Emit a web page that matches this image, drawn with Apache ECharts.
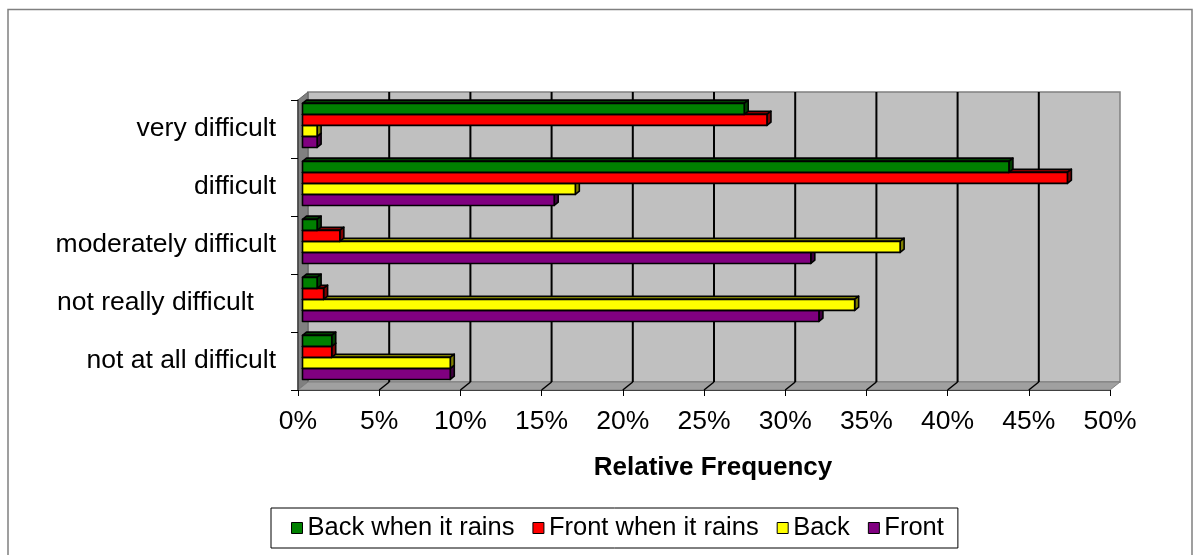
<!DOCTYPE html>
<html>
<head>
<meta charset="utf-8">
<script src="https://cdn.jsdelivr.net/npm/echarts@6/dist/echarts.min.js"></script>
<style>
html,body{margin:0;padding:0;background:#fff}
#c{width:1200px;height:555px}
</style>
</head>
<body>
<div id="c"></div>
<script>
// ---- data ----
const categories = ['very difficult', 'difficult', 'moderately difficult', 'not really difficult   ', 'not at all difficult'];
const seriesNames = ['Back when it rains', 'Front when it rains', 'Back', 'Front'];
const backWhenRains  = [27.2, 43.5, 0.9, 0.9, 1.8];
const frontWhenRains = [28.6, 47.1, 2.3, 1.3, 1.8];
const back           = [0.9, 16.8, 36.8, 34.0, 9.1];
const front          = [0.9, 15.5, 31.3, 31.8, 9.1];
const xTicks = [0, 5, 10, 15, 20, 25, 30, 35, 40, 45, 50];
const axisTitle = 'Relative Frequency';

// ---- style ----
const FONT = '"Liberation Sans", Arial, sans-serif';
const DX = 10, DY = -8;
const faceColors = ['#008000', '#FF0000', '#FFFF00', '#800080'];
const sideColors = ['#004000', '#800000', '#808000', '#400040'];
const allValues = [backWhenRains, frontWhenRains, back, front];

function barRenderer(k) {
  return function (params, api) {
    const v = api.value(0), ci = api.value(1);
    const p0 = api.coord([0, ci]);
    const p1 = api.coord([v, ci]);
    const band = api.size([0, 1])[1];
    const bh = band * 0.19;
    const top = p0[1] - 2 * bh + k * bh;
    const fx = DX * 0.45, fy = DY * 0.45, ddx = DX * 0.4, ddy = DY * 0.4;
    const x0 = p0[0] + fx, x1 = p1[0] + fx, y0 = top + fy, y1 = top + bh + fy;
    const st = { stroke: '#000', lineWidth: 1.6, lineJoin: 'round' };
    return {
      type: 'group',
      children: [
        { type: 'polygon', shape: { points: [[x0, y0], [x0 + ddx, y0 + ddy], [x1 + ddx, y0 + ddy], [x1, y0]] }, style: Object.assign({}, st, { fill: sideColors[k] }) },
        { type: 'polygon', shape: { points: [[x1, y0], [x1 + ddx, y0 + ddy], [x1 + ddx, y1 + ddy], [x1, y1]] }, style: Object.assign({}, st, { fill: sideColors[k] }) },
        { type: 'rect', shape: { x: x0, y: y0, width: x1 - x0, height: y1 - y0 }, style: Object.assign({}, st, { fill: faceColors[k] }) }
      ]
    };
  };
}

function wallsRender(params, api) {
  const cs = params.coordSys;
  const x = cs.x, y = cs.y, w = cs.width, h = cs.height;
  const children = [];
  children.push({ type: 'rect', shape: { x: x + DX, y: y + DY, width: w, height: h }, style: { fill: '#C0C0C0', stroke: '#808080', lineWidth: 1.5 } });
  children.push({ type: 'polygon', shape: { points: [[x, y], [x + DX, y + DY], [x + DX, y + h + DY], [x, y + h]] }, style: { fill: '#808080', stroke: '#606060', lineWidth: 1 } });
  children.push({ type: 'polygon', shape: { points: [[x, y + h], [x + DX, y + h + DY], [x + w + DX, y + h + DY], [x + w, y + h]] }, style: { fill: '#A0A0A0', stroke: '#808080', lineWidth: 1 } });
  xTicks.forEach(function (t, i) {
    if (i === 0 || i === xTicks.length - 1) return;
    const px = api.coord([t, 0])[0];
    children.push({ type: 'line', shape: { x1: px + DX, y1: y + DY, x2: px + DX, y2: y + h + DY }, style: { stroke: '#000', lineWidth: 2 } });
    children.push({ type: 'line', shape: { x1: px, y1: y + h, x2: px + DX, y2: y + h + DY }, style: { stroke: '#000', lineWidth: 1.5 } });
  });
  return { type: 'group', children: children };
}

const series = [{
  type: 'custom',
  name: 'walls',
  z: 1,
  silent: true,
  renderItem: wallsRender,
  data: [[0, 0]],
  encode: { x: 0, y: 1 }
}];
allValues.forEach(function (vals, k) {
  series.push({
    type: 'custom',
    name: seriesNames[k],
    z: 6 - k,
    renderItem: barRenderer(k),
    itemStyle: { color: faceColors[k], borderColor: '#000', borderWidth: 1 },
    encode: { x: 0, y: 1 },
    data: categories.map(function (c, i) { return [vals[i], i]; })
  });
});

const chart = echarts.init(document.getElementById('c'));
chart.setOption({
  backgroundColor: '#fff',
  animation: false,
  textStyle: { fontFamily: FONT },
  grid: { left: 298, right: 90, top: 100, bottom: 165, containLabel: false },
  xAxis: {
    type: 'value', min: 0, max: 50, interval: 5, z: 10,
    axisLine: { show: true, lineStyle: { color: '#404040', width: 1 } },
    axisTick: { show: true, length: 6, lineStyle: { color: '#000', width: 1 } },
    axisLabel: { formatter: '{value}%', color: '#000', fontSize: 26.5, fontFamily: FONT, margin: 18 },
    splitLine: { show: false },
    name: axisTitle, nameLocation: 'middle', nameGap: 65,
    nameTextStyle: { color: '#000', fontSize: 26, fontWeight: 'bold', fontFamily: FONT, padding: [0, 0, 0, 18] }
  },
  yAxis: {
    type: 'category', data: categories, inverse: true, z: 10,
    axisLine: { show: true, lineStyle: { color: '#404040', width: 1.5 } },
    axisTick: { show: true, length: 7, lineStyle: { color: '#000', width: 1 } },
    axisLabel: { color: '#000', fontSize: 26.5, fontFamily: FONT, margin: 22 },
    splitLine: { show: false }
  },
  legend: {
    data: seriesNames.map(function (n) { return { name: n, icon: 'rect' }; }),
    left: 271, top: 508,
    orient: 'horizontal',
    itemWidth: 11, itemHeight: 11, itemGap: 18,
    itemStyle: { borderColor: '#000', borderWidth: 1 },
    borderColor: '#000', borderWidth: 1, borderRadius: 0,
    padding: [7, 14, 7, 20],
    textStyle: { color: '#000', fontSize: 25.5, fontFamily: FONT },
    selectedMode: false
  },
  graphic: [{
    type: 'rect', silent: true, z: -10,
    shape: { x: 8, y: 9.5, width: 1184, height: 600 },
    style: { fill: 'none', stroke: '#808080', lineWidth: 1.5 }
  }],
  series: series
});
</script>
</body>
</html>
